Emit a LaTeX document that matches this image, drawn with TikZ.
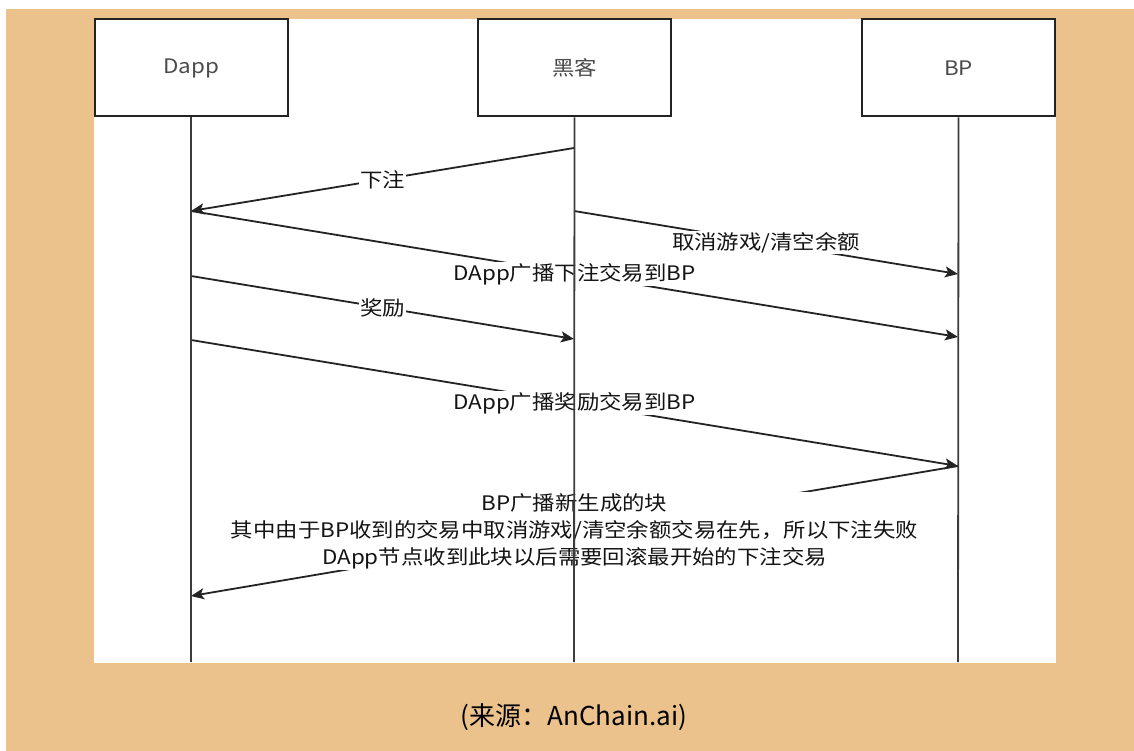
\documentclass[tikz,border=0pt]{standalone}
\usepackage{fontspec}
\setmainfont{Noto Sans CJK SC}
\newfontfamily\dfont[FakeStretch=1.12]{Noto Sans CJK SC}
\newfontfamily\capfont{Noto Sans CJK SC}
\usetikzlibrary{arrows.meta}
\definecolor{bgorange}{RGB}{236,194,140}
\definecolor{linecol}{RGB}{35,35,35}
\definecolor{lifecol}{RGB}{60,60,60}
\definecolor{boxtext}{RGB}{75,75,75}
\definecolor{lbltext}{RGB}{20,20,20}
\begin{document}
\begin{tikzpicture}[x=1pt,y=-1pt,
  actor/.style={draw=linecol, line width=2pt, fill=white, minimum width=193pt,
    minimum height=97pt, inner sep=0pt, text=boxtext, font=\dfont\fontsize{20}{22}\selectfont},
  life/.style={draw=lifecol, line width=1.8pt},
  msg/.style={draw=linecol, line width=1.8pt, -{Stealth[length=13pt,width=11pt,inset=3pt]}},
  lbl/.style={fill=white, inner sep=1pt, text=lbltext, align=center,
    font=\dfont\fontsize{20}{27}\selectfont}]
\useasboundingbox (0,0) rectangle (1134,751);
\fill[white] (0,0) rectangle (1134,751);
\fill[bgorange] (6,9) rectangle (1134,751);
\fill[white] (94,19) rectangle (1056,663);

\node[actor] (dapp) at (191,68) {Dapp};
\node[actor] (hacker) at (574.5,68) {黑客};
\node[actor] (bp) at (958.5,68) {BP};

\coordinate (dappEnd) at (191,662);
\coordinate (hackerEnd) at (574,662);
\coordinate (bpEnd) at (958,662);

\coordinate (h1) at (574,148);
\coordinate (d1) at (191,211);
\coordinate (h2) at (574,211);
\coordinate (b2) at (958,274);
\coordinate (b3) at (958,337);
\coordinate (d4) at (191,276);
\coordinate (h4) at (574,339);
\coordinate (d5) at (191,340);
\coordinate (b5) at (958,466);
\coordinate (d6) at (191,596);

\draw[msg] (h1) -- node[lbl] (l1) {下注} (d1);
\draw[msg] (h2) -- node[lbl] (l2) {取消游戏/清空余额} (b2);
\draw[msg] (d1) -- node[lbl] (l3) {DApp广播下注交易到BP} (b3);
\draw[msg] (d4) -- node[lbl] (l4) {奖励} (h4);
\draw[msg] (d5) -- node[lbl] (l5) {DApp广播奖励交易到BP} (b5);
\draw[msg] (b5) -- node[lbl] (l6) {BP广播新生成的块\\其中由于BP收到的交易中取消游戏/清空余额交易在先，所以下注失败\\DApp节点收到此块以后需要回滚最开始的下注交易} (d6);

\draw[life] (dapp.south) -- (dappEnd);
\draw[life] (hacker.south) -- (hackerEnd);
\draw[life] (bp.south) -- (bpEnd);

\node[text=black, font=\capfont\fontsize{26}{30}\selectfont] (cap) at (574,717) {(来源：AnChain.ai)};
\end{tikzpicture}
\end{document}
